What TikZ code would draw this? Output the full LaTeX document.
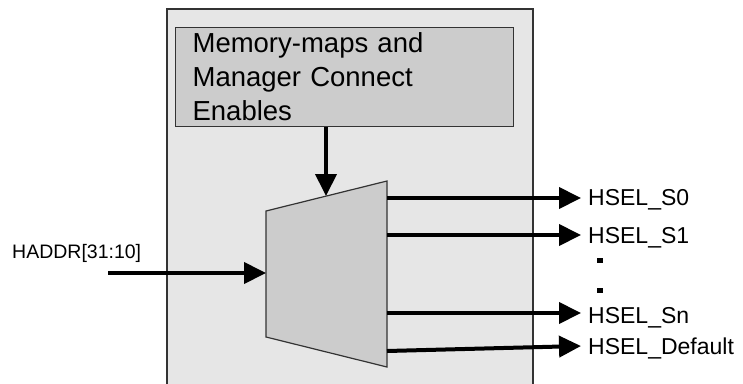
\documentclass[tikz,border=0pt]{standalone}
\usepackage{fontspec}
\setmainfont{Liberation Sans}
\usetikzlibrary{arrows.meta,positioning}
\definecolor{blockfill}{HTML}{E6E6E6}
\definecolor{muxfill}{HTML}{CCCCCC}
\definecolor{edge}{HTML}{333333}

\begin{document}
\begin{tikzpicture}[x=1pt,y=-1pt]
\tikzstyle{every node}+=[inner sep=0pt]
\tikzstyle{sig}=[line width=4pt,-{Triangle[length=22pt,width=21pt]}]
\tikzstyle{lbl}=[anchor=base west,font=\fontsize{23}{23}\selectfont]
\tikzstyle{dots}=[fill=black,minimum width=5.5pt,minimum height=5pt]
\useasboundingbox (0,0) rectangle (743,383);
% decoder block
\begin{scope}
\clip (0,0) rectangle (743,383);
\draw [edge,line width=1.2pt,fill=blockfill] (167,400) -- (167,9) -- (533,9) -- (533,400);
\end{scope}
\node [draw=edge,line width=1.2pt,fill=muxfill,anchor=north west,minimum width=338pt,minimum height=99pt,
  text width=304pt,align=left,inner xsep=17pt,
  font=\fontsize{27.5}{34}\selectfont] (maps) at (175,27)
  {Memory-maps and\\Manager Connect\\Enables\par\vspace*{6pt}};
% address decoder
\coordinate (mux-nw) at (266,211);
\coordinate (mux-ne) at (387,181);
\coordinate (mux-se) at (387,367);
\coordinate (mux-sw) at (266,337);
\draw [edge,line width=1.2pt,fill=muxfill] (mux-nw) -- (mux-ne) -- (mux-se) -- (mux-sw) -- cycle;
\coordinate (mux-top) at (326,196);
\coordinate (mux-in) at (266,273);
\coordinate (mux-o0) at (387,198);
\coordinate (mux-o1) at (387,235);
\coordinate (mux-on) at (387,313);
\coordinate (mux-od) at (387,351);
% signals
\node [anchor=base west,font=\fontsize{19.5}{19.5}\selectfont] (haddr) at (12,258) {HADDR[31:10]};
\coordinate (haddr-src) at (108,273);
\node [lbl] (s0) at (588,205) {HSEL\_S0};
\node [lbl] (s1) at (588,243) {HSEL\_S1};
\node [lbl] (sn) at (588,323) {HSEL\_Sn};
\node [lbl] (sd) at (588,354) {HSEL\_Default};
\node [dots] (dot1) at (600,260.5) {};
\node [dots] (dot2) at (600,290.5) {};
\coordinate (s0-in) at (581,198);
\coordinate (s1-in) at (581,235);
\coordinate (sn-in) at (581,313);
\coordinate (sd-in) at (581,346);
\draw [sig] (maps.south -| mux-top) -- (mux-top);
\draw [sig] (haddr-src) -- (mux-in);
\draw [sig] (mux-o0) -- (s0-in);
\draw [sig] (mux-o1) -- (s1-in);
\draw [sig] (mux-on) -- (sn-in);
\draw [sig] (mux-od) -- (sd-in);
\end{tikzpicture}
\end{document}
